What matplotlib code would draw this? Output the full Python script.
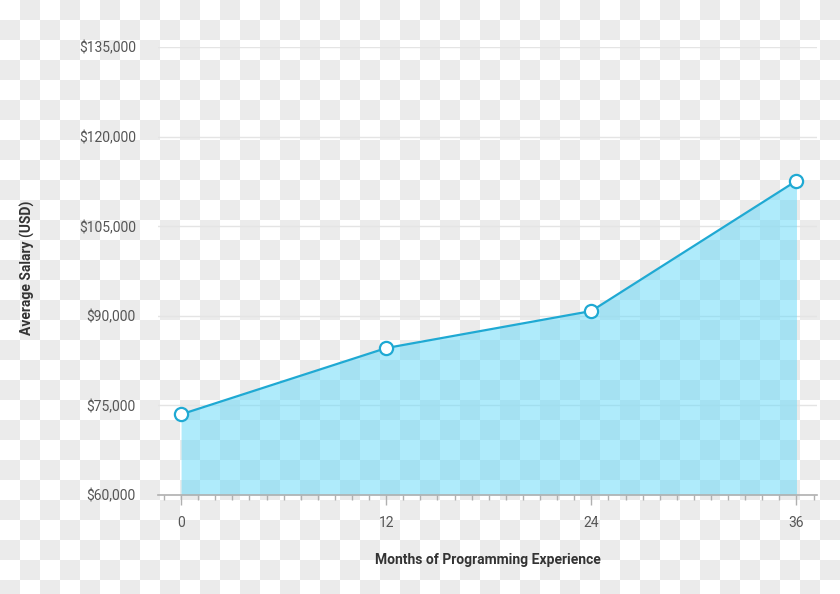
import numpy as np
import matplotlib
matplotlib.use("Agg")
import matplotlib.pyplot as plt
from matplotlib.ticker import FuncFormatter, MultipleLocator

# values
months = [0, 12, 24, 36]
salary = [73500, 84600, 90800, 112600]
yticks = [60000, 75000, 90000, 105000, 120000, 135000]

plt.rcParams['font.family'] = ['Roboto', 'DejaVu Sans']

W, H = 840, 594
fig = plt.figure(figsize=(W / 100, H / 100), dpi=100)

# transparent-image checkerboard seen behind the chart
yy, xx = np.indices((H, W))
check = ((xx // 20 + yy // 20) % 2).astype(float)
bg = np.where(check[..., None] == 1, 235 / 255, 1.0) * np.ones((H, W, 3))
fig.figimage(bg[::-1], xo=0, yo=0, origin='lower', zorder=-10)
fig.patch.set_alpha(0)

ax = fig.add_axes([158 / W, 1 - 495 / H, (817 - 158) / W, (495 - 47) / H])
ax.set_facecolor('none')

line_col = '#1fa9d3'
ax.fill_between(months, salary, 60000, color='#61d9f9', alpha=0.5, lw=0, zorder=2)
ax.plot(months, salary, color=line_col, lw=1.6, zorder=3,
        marker='o', ms=9.5, mfc='white', mec=line_col, mew=1.6)

ax.set_xlim(-1.35, 37.2)
ax.set_ylim(60000, 135000)
ax.set_yticks(yticks)
ax.yaxis.set_major_formatter(FuncFormatter(lambda v, p: '${:,.0f}'.format(v)))
ax.set_xticks(months)
ax.xaxis.set_minor_locator(MultipleLocator(1))

ax.grid(axis='y', color='#e4e4e4', lw=1, zorder=0)
for s in ['top', 'right', 'left']:
    ax.spines[s].set_visible(False)
ax.spines['bottom'].set_color('#b0b0b0')
ax.spines['bottom'].set_linewidth(1.2)
ax.spines['bottom'].set_zorder(4)

ax.tick_params(axis='y', length=0, pad=16, labelsize=10, labelcolor='#555555')
ax.tick_params(axis='x', which='major', length=7, width=1, color='#b0b0b0',
               pad=8, labelsize=10, labelcolor='#555555')
ax.tick_params(axis='x', which='minor', length=3.5, width=1, color='#b0b0b0')

ax.set_xlabel('Months of Programming Experience', fontsize=10, fontweight='bold',
              color='#333333')
ax.set_ylabel('Average Salary (USD)', fontsize=10, fontweight='bold',
              color='#333333')
ax.xaxis.set_label_coords((488 - 158) / 659, (495 - 560) / 448)
ax.yaxis.set_label_coords((27 - 158) / 659, (495 - 268) / 448)
ax.xaxis.label.set_va('center')
ax.yaxis.label.set_va('center')

fig.savefig('out.png', dpi=100)
